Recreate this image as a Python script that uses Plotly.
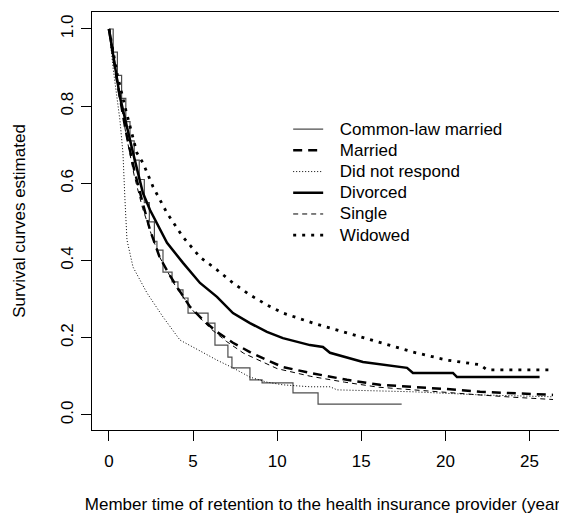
import plotly.graph_objects as go

# ---------------- data ----------------
groups = ["Common-law married", "Married", "Did not respond", "Divorced", "Single", "Widowed"]

common_t = [0, 0.25, 0.5, 0.75, 1.0, 1.25, 1.5, 1.8, 2.1, 2.4, 2.7, 2.85, 3.21, 3.75, 4.10, 4.40,
            4.70, 5.89, 6.30, 7.07, 7.31, 8.38, 9.10, 10.94, 12.43, 17.4]
common_s = [1.0, 0.94, 0.88, 0.82, 0.76, 0.71, 0.66, 0.61, 0.55, 0.50, 0.45, 0.427, 0.370, 0.345, 0.324, 0.303,
            0.264, 0.238, 0.181, 0.150, 0.122, 0.091, 0.083, 0.057, 0.028, 0.028]

married_t = [0, 0.5, 1.0, 1.5, 2.0, 2.44, 3.0, 3.5, 4.04, 4.82, 5.59, 6.42, 7.37, 8.38, 9.39, 10.34,
             11.95, 14.15, 16.11, 18.07, 20.10, 22.06, 24.02, 26.4]
married_s = [1.0, 0.86, 0.735, 0.635, 0.55, 0.479, 0.41, 0.37, 0.332, 0.280, 0.246, 0.215, 0.187, 0.163, 0.142, 0.124,
             0.109, 0.091, 0.078, 0.073, 0.067, 0.060, 0.057, 0.052]

noresp_t = [0, 0.24, 0.65, 0.83, 0.95, 1.07, 1.43, 2.26, 3.21, 4.22, 5.41, 6.42, 7.37, 8.38, 9.39, 10.34,
            11.95, 13.14, 13.56, 18.07, 22.06, 26.4]
noresp_s = [1.0, 0.90, 0.764, 0.679, 0.557, 0.453, 0.383, 0.316, 0.254, 0.194, 0.166, 0.142, 0.122, 0.098, 0.085, 0.078,
            0.073, 0.073, 0.065, 0.060, 0.052, 0.047]

divorced_t = [0, 0.65, 1.43, 2.02, 2.44, 3.45, 4.40, 5.41, 6.42, 7.37, 8.38, 9.39, 10.34, 11.95, 12.72, 13.14,
              15.10, 17.72, 18.07, 20.45, 20.69, 25.6]
divorced_s = [1.0, 0.824, 0.679, 0.575, 0.531, 0.446, 0.394, 0.342, 0.306, 0.264, 0.238, 0.215, 0.199, 0.181, 0.176, 0.161,
              0.137, 0.122, 0.109, 0.109, 0.098, 0.098]

single_t = [0, 0.5, 1.0, 1.5, 2.0, 2.5, 3.0, 4.0, 5.0, 6.0, 7.0, 8.0, 9.0, 10.0, 12.0, 14.0, 16.0, 18.0,
            20.0, 22.0, 24.0, 26.4]
single_s = [1.0, 0.86, 0.73, 0.62, 0.535, 0.47, 0.41, 0.33, 0.27, 0.225, 0.19, 0.16, 0.14, 0.12, 0.10, 0.085, 0.072, 0.065,
            0.058, 0.052, 0.046, 0.040]

widowed_t = [0, 0.5, 1.0, 1.66, 2.02, 2.62, 3.45, 4.40, 5.41, 6.42, 7.37, 8.38, 9.39, 10.34, 12.13, 14.15,
             16.11, 18.07, 20.10, 22.06, 22.47, 26.4]
widowed_s = [1.0, 0.88, 0.79, 0.679, 0.653, 0.591, 0.523, 0.461, 0.409, 0.376, 0.342, 0.311, 0.285, 0.264, 0.238, 0.212,
             0.187, 0.163, 0.142, 0.130, 0.117, 0.117]

x_ticks = [0, 5, 10, 15, 20, 25]
y_ticks = [0.0, 0.2, 0.4, 0.6, 0.8, 1.0]
y_tick_labels = ["0.0", "0.2", "0.4", "0.6", "0.8", "1.0"]

# ---------------- figure ----------------
FONT = "Liberation Sans, Arial, sans-serif"
series = [
    (groups[0], common_t, common_s, dict(color="#4d4d4d", width=1.2, dash="solid"), "hv"),
    (groups[1], married_t, married_s, dict(color="black", width=2.5, dash="9px,6px"), "linear"),
    (groups[2], noresp_t, noresp_s, dict(color="black", width=1, dash="1px,2px"), "linear"),
    (groups[3], divorced_t, divorced_s, dict(color="black", width=2.5, dash="solid"), "linear"),
    (groups[4], single_t, single_s, dict(color="black", width=1, dash="5px,4px"), "linear"),
    (groups[5], widowed_t, widowed_s, dict(color="black", width=2.8, dash="3px,6px"), "linear"),
]

fig = go.Figure()
for name, t, s, line, shape in series:
    line = dict(line)
    line["shape"] = shape
    fig.add_trace(go.Scatter(
        x=t, y=s, mode="lines", line=line,
        name='&nbsp;&nbsp;&nbsp;<span style="font-size:17px">' + name + "</span>"))

# page body has an 8px margin, so the figure is 8px smaller than the window
fig.update_layout(
    width=559, height=506,
    margin=dict(l=84, r=0, t=4, b=84, autoexpand=False),
    paper_bgcolor="white", plot_bgcolor="white",
    font=dict(family=FONT, size=17, color="black"),
    legend=dict(x=0.413, y=0.757, xanchor="left", yanchor="top",
                bgcolor="rgba(0,0,0,0)", font=dict(size=14), tracegroupgap=0),
    xaxis=dict(range=[-1.01, 27.23], tickvals=x_ticks, showgrid=False, zeroline=False,
               automargin=False,
               showline=True, mirror=True, linecolor="black", linewidth=1,
               ticks="outside", ticklen=10, tickcolor="black", tickwidth=1,
               ticklabelstandoff=6,
               title=dict(text="Member time of retention to the health insurance provider (years)",
                          standoff=33, font=dict(size=17))),
    yaxis=dict(range=[-0.039, 1.044], tickvals=y_ticks, ticktext=y_tick_labels, showgrid=False,
               automargin=False,
               zeroline=False, showline=True, mirror=False, linecolor="black", linewidth=1,
               ticks="outside", ticklen=10, tickcolor="black", tickwidth=1, tickangle=-90,
               ticklabelstandoff=1,
               title=dict(text="Survival curves estimated", standoff=28, font=dict(size=17))),
)

fig.write_html("out.html")
